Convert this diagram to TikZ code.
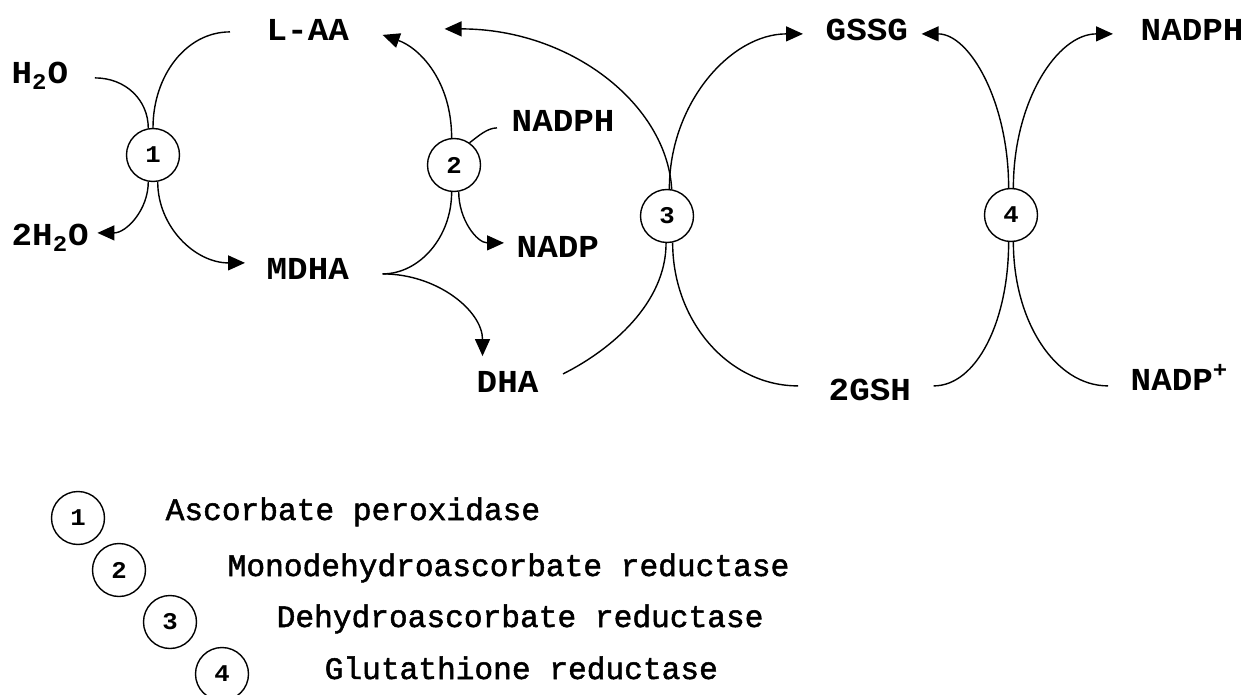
\documentclass[tikz,border=0pt]{standalone}
\usepackage{fontspec}
\usetikzlibrary{arrows.meta,calc}
\newfontfamily\labfont[FakeStretch=1.07]{Liberation Mono Bold}
\newfontfamily\legfont[FakeBold=1.6]{Liberation Mono}

\begin{document}
\begin{tikzpicture}[x=0.5pt,y=-0.5pt,
        >={Triangle[length=8.5pt,width=7.5pt]},
        line width=0.7pt,
        esty/.style={circle,draw,inner sep=0pt,minimum size=26.5pt,font=\labfont\fontsize{12pt}{14pt}\selectfont},
        msty/.style={anchor=base west,inner sep=0pt,text height=9.1pt,text depth=0pt,font=\labfont\fontsize{16pt}{18pt}\selectfont},
        tsty/.style={anchor=base west,inner sep=0pt,font=\legfont\fontsize{15.6pt}{18pt}\selectfont},
        ]

    \useasboundingbox (0,0) rectangle (1247,695);

    \node (h2o) at (11,84) [msty] {H\textsubscript{2}O};
    \node (laa) at (266,41) [msty] {L-AA};
    \node (hhoo) at (11,246) [msty] {2H\textsubscript{2}O};
    \node (mdha) at (266,279) [msty] {MDHA};
    \node (nadph) at (511,132) [msty] {NADPH};
    \node (nadp) at (516,257) [msty] {NADP};
    \node (dha) at (476,392) [msty] {DHA};
    \node (gssg) at (825,41) [msty] {GSSG};
    \node (nadphb) at (1140,41) [msty] {NADPH};
    \node (gsh) at (828,400) [msty] {2GSH};
    \node (nadpp) at (1130,390) [msty] {NADP\textsuperscript{+}};

    \node (e1) at (153,155) [esty] {1};
    \node (e2) at (454,165) [esty] {2};
    \node (e3) at (667,216) [esty] {3};
    \node (e4) at (1011,215) [esty] {4};

    \coordinate (mdhaout) at ($(mdha.east)+(33,4)$);

    \draw ($(h2o.east)+(26,3)$) .. controls +(31,0) and +(0,-28) .. (e1.100);
    \draw ($(laa.west)+(-36,0)$) .. controls +(-44,0) and +(0,-52) .. (e1.north);
    \draw[->] (e1.260) .. controls +(0,28) and +(29,0) .. ($(hhoo.east)+(8,-4)$);
    \draw[->] (e1.280) .. controls +(0,45) and +(-50,0) .. ($(mdha.west)+(-21,-7)$);

    \draw[->] (e2.95) .. controls +(0,-57) and +(37,13) .. ($(laa.east)+(33,3)$);
    \draw ($(nadph.west)+(-14,5)$) .. controls +(-10,0) and +(8,-6) .. (e2.55);
    \draw (e2.265) .. controls +(0,45) and +(37,0) .. (mdhaout);
    \draw[->] (e2.280) .. controls +(0,28) and +(-27,0) .. ($(nadp.west)+(-12,-5)$);
    \draw[->] (mdhaout) .. controls +(55,0) and +(0,-45) .. ($(dha.north)+(-25,-17)$);

    \draw[->] (e3.80) .. controls +(-5,-85) and +(126,0) .. ($(laa.east)+(95,-3)$);
    \draw[->] (e3.85) .. controls +(0,-86) and +(-72,0) .. ($(gssg.west)+(-22,2)$);
    \draw ($(dha.east)+(24,-9)$) .. controls +(48,-24) and +(0,60) .. (e3.268);
    \draw ($(gsh.west)+(-30,-5)$) .. controls +(-69,0) and +(0,79) .. (e3.282);

    \draw[->] (e4.95) .. controls +(0,-86) and +(48,0) .. ($(gssg.east)+(13,2)$);
    \draw[->] (e4.85) .. controls +(0,-86) and +(-56,0) .. ($(nadphb.west)+(-27,2)$);
    \draw ($(gsh.east)+(22,-5)$) .. controls +(43,0) and +(0,79) .. (e4.265);
    \draw ($(nadpp.west)+(-22,5)$) .. controls +(-53,0) and +(0,79) .. (e4.275);

    \node (k1) at (78,518) [esty] {1};
    \node (k2) at (119,570) [esty] {2};
    \node (k3) at (170,622) [esty] {3};
    \node (k4) at (222,674) [esty] {4};
    \node (t1) at (165,520) [tsty] {Ascorbate peroxidase};
    \node (t2) at (227,576) [tsty] {Monodehydroascorbate reductase};
    \node (t3) at (276,627) [tsty] {Dehydroascorbate reductase};
    \node (t4) at (324,679) [tsty] {Glutathione reductase};

\end{tikzpicture}
\end{document}
